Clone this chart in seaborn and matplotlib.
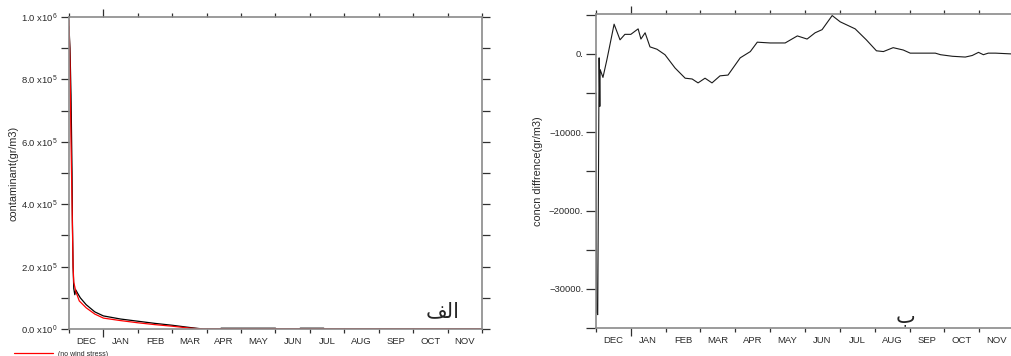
import seaborn as sns
import matplotlib.pyplot as plt
from matplotlib.ticker import FixedLocator, MultipleLocator, FixedFormatter
from matplotlib.lines import Line2D

# month axis: x measured in months since 1 December
month_labels = ['DEC', 'JAN', 'FEB', 'MAR', 'APR', 'MAY', 'JUN',
                'JUL', 'AUG', 'SEP', 'OCT', 'NOV']

# panel alef: contaminant (gr/m3), two runs
black_t = [0.0, 0.03, 0.06, 0.09, 0.10, 0.12, 0.14, 0.17, 0.20, 0.25, 0.33,
           0.5, 0.75, 1.0, 1.5, 2.0, 2.5, 3.0, 3.5, 3.9, 4.4, 4.42, 6.0,
           6.02, 6.7, 6.72, 7.4, 7.42, 12.0]
black_c = [9.7e5, 9.0e5, 7.5e5, 5.0e5, 3.5e5, 2.0e5, 1.3e5, 1.1e5, 1.25e5,
           1.15e5, 1.0e5, 7.8e4, 5.5e4, 4.2e4, 3.2e4, 2.5e4, 1.8e4, 1.2e4,
           5e3, 0, 0, 2500, 2500, 0, 0, 2500, 2500, 0, 0]
red_t = [0.0, 0.03, 0.06, 0.09, 0.12, 0.14, 0.20, 0.30, 0.5, 0.75, 1.0,
         1.5, 2.0, 2.5, 3.0, 3.5, 3.9, 12.0]
red_c = [9.9e5, 8.5e5, 6.0e5, 4.0e5, 2.0e5, 1.5e5, 1.2e5, 9.0e4, 6.8e4,
         4.8e4, 3.5e4, 2.7e4, 2.0e4, 1.4e4, 9e3, 3e3, 0, 0]
conc_ticks = [0, 2e5, 4e5, 6e5, 8e5, 1e6]
conc_labels = [r'0.0 x10$^{0}$', r'2.0 x10$^{5}$', r'4.0 x10$^{5}$',
               r'6.0 x10$^{5}$', r'8.0 x10$^{5}$', r'1.0 x10$^{6}$']

# panel be: concentration difference (gr/m3)
diff_t = [0.00, 0.02, 0.05, 0.09, 0.11, 0.12, 0.20, 0.31, 0.37, 0.52, 0.69,
          0.83, 1.00, 1.21, 1.29, 1.41, 1.55, 1.75, 1.98, 2.27, 2.56, 2.76,
          2.93, 3.13, 3.33, 3.56, 3.79, 4.14, 4.43, 4.63, 5.00, 5.43, 5.78,
          6.06, 6.29, 6.49, 6.78, 7.01, 7.44, 7.76, 8.05, 8.25, 8.53, 8.82,
          9.02, 9.74, 9.89, 10.23, 10.60, 10.80, 10.98, 11.12, 11.26, 11.47,
          11.93]
diff_c = [-5000, -33000, -33300, -500, -6700, -2000, -3000, -800, 500, 3800,
          1800, 2500, 2500, 3200, 1900, 2700, 900, 600, -100, -1800, -3100,
          -3200, -3700, -3100, -3700, -2800, -2700, -500, 300, 1500, 1400,
          1400, 2300, 1900, 2700, 3100, 4900, 4100, 3200, 1800, 400, 300, 800,
          500, 100, 100, -100, -300, -400, -200, 200, -100, 100, 100, 0]
diff_ticks = [-30000, -20000, -10000, 0]

sns.set_style('ticks')
plt.rcParams['font.family'] = ['Liberation Sans', 'DejaVu Sans']
plt.rcParams['mathtext.fontset'] = 'custom'
plt.rcParams['mathtext.rm'] = 'Liberation Sans'
plt.rcParams['mathtext.default'] = 'regular'

fig = plt.figure(figsize=(10.11, 3.56), dpi=100)
ax1 = fig.add_axes([0.0682, 0.0758, 0.4086, 0.8764])
ax2 = fig.add_axes([0.5895, 0.0787, 0.4135, 0.8820])

spine_col = '#8a8a8a'
tick_col = '#303030'
text_col = '#2a2a2a'
lab_size = 6.8


def month_axis(ax):
    ax.set_xlim(0, 12)
    ax.xaxis.set_major_locator(FixedLocator([1]))
    ax.xaxis.set_minor_locator(FixedLocator(range(13)))
    ax.tick_params(axis='x', which='major', length=6, top=True,
                   labelbottom=False, direction='out', color=tick_col, width=0.9)
    ax.tick_params(axis='x', which='minor', length=3, top=True,
                   direction='out', color=tick_col, width=0.9)
    sec = ax.secondary_xaxis('bottom')
    sec.set_xticks([m + 0.5 for m in range(12)])
    sec.set_xticklabels(month_labels)
    sec.tick_params(length=0, pad=6, labelsize=lab_size, labelcolor=text_col)
    sec.spines['bottom'].set_visible(False)
    for s in ax.spines.values():
        s.set_color(spine_col)
        s.set_linewidth(1.2)
    ax.set_xlabel('')


# --- panel alef
sns.lineplot(x=black_t, y=black_c, ax=ax1, color='black', lw=0.9,
             estimator=None)
sns.lineplot(x=red_t, y=red_c, ax=ax1, color='red', lw=0.9, estimator=None)
month_axis(ax1)
ax1.set_ylim(0, 1.0e6)
ax1.yaxis.set_major_locator(FixedLocator(conc_ticks))
ax1.yaxis.set_major_formatter(FixedFormatter(conc_labels))
ax1.yaxis.set_minor_locator(MultipleLocator(1e5))
ax1.tick_params(axis='y', which='both', length=6, right=True, pad=2,
                direction='out', color=tick_col, width=0.9,
                labelsize=lab_size, labelcolor=text_col)
ax1.set_ylabel('contaminant(gr/m3)', fontsize=7.8, labelpad=2,
               color=text_col)
ax1.text(0.905, 0.025, '\ufed2\ufedf\ufe8d', transform=ax1.transAxes,
         fontsize=15, family='DejaVu Sans', ha='center', va='bottom')
ax1.legend(handles=[Line2D([], [], color='red', lw=0.9)],
           labels=['(no wind stress)'], loc='lower left',
           bbox_to_anchor=(0.008, -0.022), bbox_transform=fig.transFigure,
           frameon=False, fontsize=5, handlelength=5.5, handletextpad=0.8)

# --- panel be
sns.lineplot(x=diff_t, y=diff_c, ax=ax2, color='#1a1a1a', lw=0.8,
             estimator=None)
month_axis(ax2)
ax2.set_ylim(-35000, 5100)
ax2.yaxis.set_major_locator(FixedLocator(diff_ticks))
ax2.yaxis.set_minor_locator(MultipleLocator(5000))
ax2.yaxis.set_major_formatter(lambda v, p: f'{v:.0f}.'.replace('-', '\u2212'))
ax2.tick_params(axis='y', which='both', length=7, right=True, pad=2,
                direction='out', color=tick_col, width=0.9,
                labelsize=lab_size, labelcolor=text_col)
ax2.set_ylabel('concn diffrence(gr/m3)', fontsize=7.8, labelpad=4,
               color=text_col)
ax2.text(0.74, 0.006, '\u0628', transform=ax2.transAxes, fontsize=15,
         family='DejaVu Sans', ha='center', va='bottom')

fig.savefig('out.png', dpi=100)
